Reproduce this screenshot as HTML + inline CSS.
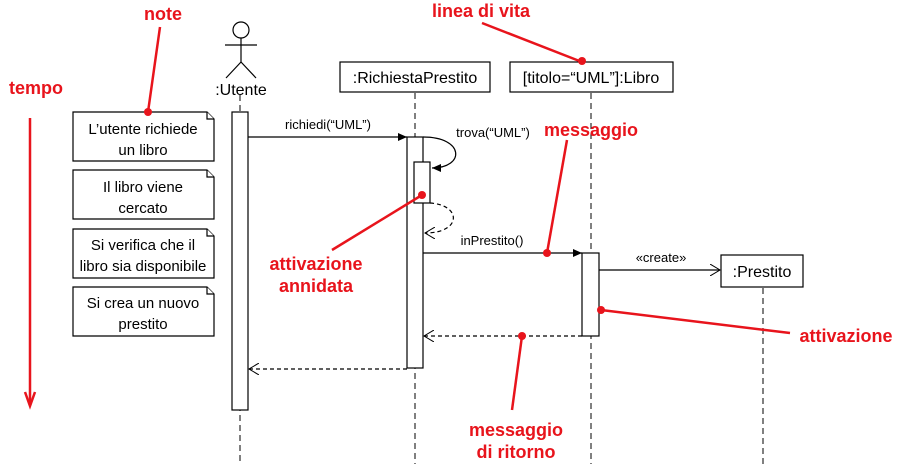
<!DOCTYPE html>
<html><head><meta charset="utf-8"><style>
html,body{margin:0;padding:0;background:#fff;}
svg{display:block;font-family:"Liberation Sans",Arial,sans-serif;}
.r{fill:#e8141c;font-weight:bold;font-size:18px;text-anchor:middle;}
.n{font-size:15px;text-anchor:middle;fill:#000;}
.m{font-size:13px;text-anchor:middle;fill:#000;}
</style></head><body>
<svg width="898" height="464" viewBox="0 0 898 464">
<defs>
<marker id="fa" markerWidth="10" markerHeight="10" refX="9" refY="5" orient="auto" markerUnits="userSpaceOnUse"><path d="M0,1 L9,5 L0,9 z" fill="#000"/></marker>
<marker id="oa" markerWidth="12" markerHeight="12" refX="10" refY="6" orient="auto" markerUnits="userSpaceOnUse"><path d="M0,0 L10,6 L0,12" fill="none" stroke="#000" stroke-width="1"/></marker>
<marker id="ra" markerWidth="12" markerHeight="14" refX="6" refY="13" orient="auto-start-reverse" markerUnits="userSpaceOnUse"></marker>
</defs>
<g stroke="#000" stroke-width="1.2" fill="none">
<!-- actor -->
<circle cx="241" cy="30" r="8" fill="#fff"/>
<line x1="241" y1="38" x2="241" y2="62"/>
<line x1="225" y1="45" x2="257" y2="45"/>
<line x1="241" y1="62" x2="226" y2="78"/>
<line x1="241" y1="62" x2="256" y2="78"/>
<!-- lifelines -->
<g stroke-dasharray="6,4" stroke-width="1">
<line x1="240" y1="95" x2="240" y2="464"/>
<line x1="415" y1="93" x2="415" y2="464"/>
<line x1="591" y1="93" x2="591" y2="464"/>
<line x1="763" y1="288" x2="763" y2="464"/>
</g>
<!-- boxes -->
<rect x="340" y="62" width="150" height="30" fill="#fff"/>
<rect x="510" y="62" width="163" height="30" fill="#fff"/>
<rect x="721" y="255" width="82" height="32" fill="#fff"/>
<!-- activations -->
<rect x="232" y="112" width="16" height="298" fill="#fff"/>
<rect x="407" y="137" width="16" height="231" fill="#fff"/>
<path d="M423,137 C465,137 465,168 432,168" marker-end="url(#fa)"/>
<rect x="414" y="162" width="16" height="41" fill="#fff"/>
<path d="M430,203 C462,205 462,233 425,233" stroke-dasharray="4,3" marker-end="url(#oa)"/>
<rect x="582" y="253" width="17" height="83" fill="#fff"/>
<!-- messages -->
<line x1="248" y1="137" x2="407" y2="137" marker-end="url(#fa)"/>
<line x1="423" y1="253" x2="582" y2="253" marker-end="url(#fa)"/>
<line x1="599" y1="270" x2="720" y2="270" marker-end="url(#oa)"/>
<line x1="582" y1="336" x2="424" y2="336" stroke-dasharray="4,3" marker-end="url(#oa)"/>
<line x1="407" y1="369" x2="249" y2="369" stroke-dasharray="4,3" marker-end="url(#oa)"/>
<!-- notes -->
<g fill="#fff">
<path d="M73,112 H207 L214,119 V161 H73 Z"/><path d="M207,112 V119 H214"/>
<path d="M73,170 H207 L214,177 V219 H73 Z"/><path d="M207,170 V177 H214"/>
<path d="M73,229 H207 L214,236 V278 H73 Z"/><path d="M207,229 V236 H214"/>
<path d="M73,287 H207 L214,294 V336 H73 Z"/><path d="M207,287 V294 H214"/>
</g>
</g>
<text x="241" y="95" font-size="16" text-anchor="middle">:Utente</text>
<text x="415" y="83" font-size="16" text-anchor="middle">:RichiestaPrestito</text>
<text x="591" y="83" font-size="16" text-anchor="middle">[titolo=“UML”]:Libro</text>
<text x="762" y="277" font-size="16" text-anchor="middle">:Prestito</text>
<text class="m" x="328" y="129">richiedi(“UML”)</text>
<text class="m" x="493" y="137">trova(“UML”)</text>
<text class="m" x="492" y="245">inPrestito()</text>
<text class="m" x="661" y="262">«create»</text>
<text class="n" x="143" y="134">L’utente richiede</text><text class="n" x="143" y="155">un libro</text>
<text class="n" x="143" y="192">Il libro viene</text><text class="n" x="143" y="213">cercato</text>
<text class="n" x="143" y="250">Si verifica che il</text><text class="n" x="143" y="271">libro sia disponibile</text>
<text class="n" x="143" y="308">Si crea un nuovo</text><text class="n" x="143" y="329">prestito</text>
<!-- red annotations -->
<g stroke="#e8141c" stroke-width="2.5" fill="none">
<line x1="160" y1="27" x2="148" y2="112"/>
<line x1="30" y1="118" x2="30" y2="405"/>
<path d="M25,392 L30,406 L35,392"/>
<line x1="482" y1="23" x2="582" y2="62"/>
<line x1="567" y1="140" x2="547" y2="253"/>
<line x1="332" y1="250" x2="422" y2="195"/>
<line x1="790" y1="333" x2="601" y2="310"/>
<line x1="512" y1="410" x2="522" y2="336"/>
</g>
<g fill="#e8141c">
<circle cx="148" cy="112" r="4"/><circle cx="582" cy="61" r="4"/><circle cx="547" cy="253" r="4"/>
<circle cx="422" cy="195" r="4"/><circle cx="601" cy="310" r="4"/><circle cx="522" cy="336" r="4"/>
</g>
<text class="r" x="163" y="20">note</text>
<text class="r" x="36" y="94">tempo</text>
<text class="r" x="481" y="17">linea di vita</text>
<text class="r" x="591" y="136">messaggio</text>
<text class="r" x="316" y="270">attivazione</text>
<text class="r" x="316" y="292">annidata</text>
<text class="r" x="846" y="342">attivazione</text>
<text class="r" x="516" y="436">messaggio</text>
<text class="r" x="516" y="458">di ritorno</text>
</svg>
</body></html>
